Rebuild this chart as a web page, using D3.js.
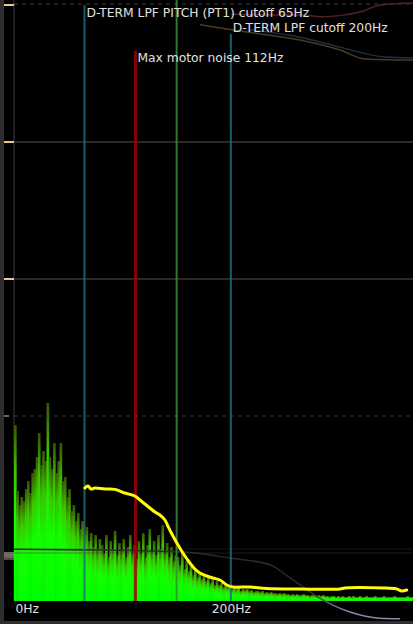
<!DOCTYPE html>
<html>
<head>
<meta charset="utf-8">
<script src="https://cdn.jsdelivr.net/npm/d3@7"></script>
<style>
  html, body { margin: 0; padding: 0; background: #000; }
  svg { display: block; }
</style>
</head>
<body>
<div id="chart"></div>
<script>
// Spectrum: amplitude per 2Hz bin, starting at 0Hz
var binHz = 2;
var spectrum = [
  88, 55, 48, 52, 50, 56, 60, 54, 64, 66, 72, 84, 68, 75, 70, 99, 72, 66, 79, 64,
  70, 79, 60, 62, 52, 56, 45, 48, 40, 44, 36, 40, 33, 37, 30, 34, 27, 33, 26, 31,
  28, 24, 33, 22, 30, 26, 35, 23, 29, 25, 31, 22, 27, 33, 24, 28, 21,
  30, 24, 34, 22, 28, 36, 25, 30, 23, 33, 26, 38, 24, 29, 22, 27, 20, 23,
  22, 18, 24, 16, 20, 15, 18, 13, 16, 12, 14, 11, 13, 10, 12, 9, 11, 8, 10, 8,
  9, 7, 8, 7, 8, 6, 7, 6, 7, 5, 6,
  5.5, 6, 5, 5.5, 4.5, 5, 5, 4.5, 5, 4, 4.5, 4, 4.5, 4, 4,
  3.5, 4, 3.5, 4, 3.5, 3.5, 3, 3.5, 3, 3.5, 3, 3, 3.5, 3, 3, 2.5, 3, 3, 2.5, 3,
  2.5, 3, 2.5, 2.5, 2, 2.5, 2.5, 2, 2.5, 2, 2.5, 2, 2, 2.5, 2, 2.5, 2, 2, 2.5, 2,
  2, 2.5, 2, 2, 2, 2.5, 2, 2, 2, 2.5, 2, 2, 2, 2, 2.5, 2, 2, 2, 2, 2, 2.5, 2, 2
];

// Smoothed response curve (yellow)
var curveHz = [65.4, 68.2, 71.0, 74.7, 83.9, 93.1, 102.3, 111.5, 116.1, 120.7, 125.3, 130.0,
  134.6, 139.2, 141.9, 145.6, 150.2, 155.8, 162.2, 166.8, 171.4, 177.9, 183.4, 189.9,
  196.3, 201.8, 217.5, 233.2, 263.6, 300.5, 305.1, 340.1, 353.0, 357.6, 362.2];
var curveAmp = [56.5, 57.5, 56, 56.5, 56, 55.8, 54, 52.5, 50.5, 48.5, 46.5, 44.5,
  43, 40.5, 37.5, 33.5, 29, 24, 19, 16, 14, 12.5, 11.5, 10.5,
  8, 7, 7, 6.25, 6, 6, 6.5, 6.5, 6, 5, 5.5];

// Filter / noise markers
var markerHz = [65, 112, 150, 200];
var markerLabels = ['D-TERM LPF PITCH (PT1) cutoff 65Hz', 'Max motor noise 112Hz', '', 'D-TERM LPF cutoff 200Hz'];

// Axis ticks
var tickHz = [0, 200];
var tickLabels = ['0Hz', '200Hz'];

// Faint log traces behind the analyser (Hz, percent of height)
var traceAHz = [200, 240, 265, 283, 305, 320, 338, 368];
var traceAPct = [2.3, 2.4, 2.4, 2.7, 2.4, 1.9, 0.8, 0.5];
var traceBHz = [171.6, 208.4, 263.8, 300.7, 323.7, 368];
var traceBPct = [4.0, 5.0, 6.45, 8.06, 9.5, 9.68];
var traceCHz = [217.7, 263.8, 300.7, 342.2, 368];
var traceCPct = [4.8, 6.0, 7.6, 9.2, 9.35];
var traceEHz = [0, 153.1, 199.2, 236.1, 254.6, 282.2, 309.9, 337.5, 355.9];
var traceEPct = [88.6, 89.0, 90.0, 91.1, 93.2, 96.5, 98.7, 99.7, 99.8];
var rowCount = 5;

// Create SVG Element
var width = 413;
var height = 624;
var svg = d3.select('#chart')
    .append('svg')
    .attr('width', width)
    .attr('height', height)
    .style('font-family', '"DejaVu Sans", sans-serif');

// Scales
var maxHz = spectrum.length * binHz;
var x = d3.scaleLinear().domain([0, maxHz]).range([14, 413]);
var y = d3.scaleLinear().domain([0, 100]).range([601, 401]);
var bgY = d3.scaleLinear().domain([0, 100]).range([0, 620]);
var rowY = d3.scaleLinear().domain([0, rowCount - 1]).range([5, 553]);

// Frame
svg.append('rect').attr('width', width).attr('height', height).attr('fill', '#000');
svg.append('rect').attr('x', 0).attr('y', 0).attr('width', 4).attr('height', height).attr('fill', '#2e2e2e');
svg.append('rect').attr('x', 0).attr('y', 621).attr('width', width).attr('height', 3).attr('fill', '#2e2e2e');
svg.append('line')
    .attr('x1', x(0)).attr('x2', x(0))
    .attr('y1', 0).attr('y2', y(0))
    .attr('stroke', '#3c3c3c');

// Gradient for bars: bright at the base, dark at each bar's tip
var defs = svg.append('defs');
var grad = defs.append('linearGradient')
    .attr('id', 'specGrad')
    .attr('x1', 0).attr('x2', 0)
    .attr('y1', 1).attr('y2', 0);
[[0, '#00ff00'], [0.45, '#14ff00'], [0.75, '#38c800'], [1, '#3a5200']]
  .forEach(function(s) {
    grad.append('stop').attr('offset', s[0]).attr('stop-color', s[1]);
  });

var traceGrad = defs.append('linearGradient')
    .attr('id', 'traceGrad')
    .attr('gradientUnits', 'userSpaceOnUse')
    .attr('x1', 0).attr('x2', 0)
    .attr('y1', 592).attr('y2', 612);
traceGrad.append('stop').attr('offset', 0).attr('stop-color', '#2a2a2a');
traceGrad.append('stop').attr('offset', 1).attr('stop-color', '#8a8aaa');

// Spectrum bars
svg.append('g')
    .selectAll('rect')
    .data(spectrum)
    .enter()
    .append('rect')
    .attr('x', function(d, i) { return x(i * binHz); })
    .attr('width', function(d, i) { return x((i + 1) * binHz) - x(i * binHz) + 0.5; })
    .attr('y', function(d) { return y(d); })
    .attr('height', function(d) { return y(0) - y(d); })
    .attr('fill', 'url(#specGrad)');

// Background rows of the log viewer
var rows = d3.range(rowCount);
svg.append('g')
    .selectAll('line')
    .data(rows)
    .enter()
    .append('line')
    .attr('x1', x(0)).attr('x2', width)
    .attr('y1', function(d) { return rowY(d) - (d === 0 ? 1 : 0); })
    .attr('y2', function(d) { return rowY(d) - (d === 0 ? 1 : 0); })
    .attr('stroke', function(d) { return d === 1 || d === 2 ? '#2e281f' : (d === 4 ? '#3a3a3a' : '#3a3a3a'); })
    .attr('stroke-width', function(d) { return d === 1 || d === 2 ? 2 : 1; })
    .attr('stroke-opacity', function(d) { return d === 4 ? 0.5 : 1; })
    .attr('stroke-dasharray', function(d) { return d === 0 || d === 3 ? '4,4' : null; });
svg.append('line')
    .attr('x1', x(0)).attr('x2', width)
    .attr('y1', rowY(4) - 4).attr('y2', rowY(4) - 4)
    .attr('stroke', '#3a3a3a')
    .attr('stroke-opacity', 0.4);

// Row markers on the left edge
svg.append('g')
    .selectAll('line')
    .data(rows)
    .enter()
    .append('line')
    .attr('x1', 4).attr('x2', function(d) { return d === 3 ? 9 : x(0); })
    .attr('y1', function(d) { return rowY(d); })
    .attr('y2', function(d) { return rowY(d); })
    .attr('stroke', function(d) { return d < 3 ? '#f2c58e' : (d === 3 ? '#666' : '#ccc'); })
    .attr('stroke-width', function(d) { return d === 4 ? 1 : 2; });
svg.append('g')
    .selectAll('line')
    .data(['#e8e0a0', '#ccc', '#c08090'])
    .enter()
    .append('line')
    .attr('x1', 4).attr('x2', x(0))
    .attr('y1', function(d, i) { return rowY(4) + 2 + i * 2; })
    .attr('y2', function(d, i) { return rowY(4) + 2 + i * 2; })
    .attr('stroke', function(d) { return d; })
    .attr('stroke-width', 1);

// Faint traces
var traceLine = function(hz, pct) {
  return d3.line()
      .x(function(d) { return x(d); })
      .y(function(d, i) { return bgY(pct[i]); })
      .curve(d3.curveMonotoneX)(hz);
};
svg.append('path').attr('d', traceLine(traceAHz, traceAPct))
    .attr('fill', 'none').attr('stroke', '#4e2626').attr('stroke-width', 1.5);
svg.append('path').attr('d', traceLine(traceBHz, traceBPct))
    .attr('fill', 'none').attr('stroke', '#4a3a22').attr('stroke-width', 1.5);
svg.append('path').attr('d', traceLine(traceCHz, traceCPct))
    .attr('fill', 'none').attr('stroke', '#1e3040').attr('stroke-width', 1.5);
svg.append('path').attr('d', traceLine(traceEHz, traceEPct))
    .attr('fill', 'none').attr('stroke', 'url(#traceGrad)').attr('stroke-width', 1.5);

// Marker lines
var markerColor = ['#1b6e7c', '#a00000', '#3c8a3c', '#1b6e7c'];
var markerWidth = [2, 3, 2, 2];
var markerTop = [5, 51, 0, 34];
svg.append('g')
    .selectAll('line')
    .data(markerHz)
    .enter()
    .append('line')
    .attr('x1', function(d) { return x(d); })
    .attr('x2', function(d) { return x(d); })
    .attr('y1', function(d, i) { return markerTop[i]; })
    .attr('y2', y(0))
    .attr('stroke', function(d, i) { return markerColor[i]; })
    .attr('stroke-width', function(d, i) { return markerWidth[i]; })
    .attr('stroke-opacity', 0.85);

// Yellow curve
var curve = d3.line()
    .x(function(d) { return x(d); })
    .y(function(d, i) { return y(curveAmp[i]); })
    .curve(d3.curveCatmullRom);
svg.append('path')
    .attr('d', curve(curveHz))
    .attr('fill', 'none')
    .attr('stroke', '#ffff00')
    .attr('stroke-width', 3)
    .attr('stroke-linecap', 'round')
    .attr('stroke-linejoin', 'round');

// Marker labels
var labelY = [17, 62, 0, 32];
svg.append('g')
    .selectAll('text')
    .data(markerHz)
    .enter()
    .append('text')
    .text(function(d, i) { return markerLabels[i]; })
    .attr('x', function(d) { return x(d) + 2; })
    .attr('y', function(d, i) { return labelY[i]; })
    .attr('font-size', 12.3)
    .attr('fill', '#e0e0e0');

// X axis
var axis = svg.append('g')
    .attr('transform', 'translate(0,' + y(0) + ')')
    .call(d3.axisBottom(x)
      .tickValues(tickHz)
      .tickFormat(function(d, i) { return tickLabels[i]; })
      .tickSize(0));
axis.select('.domain').remove();
axis.selectAll('text')
    .attr('fill', '#e0e0e0')
    .attr('font-size', 12.3)
    .attr('font-family', '"DejaVu Sans", sans-serif')
    .attr('text-anchor', function(d, i) { return i === 0 ? 'start' : 'middle'; })
    .attr('x', function(d, i) { return i === 0 ? 1 : 0; });
</script>
</body>
</html>
